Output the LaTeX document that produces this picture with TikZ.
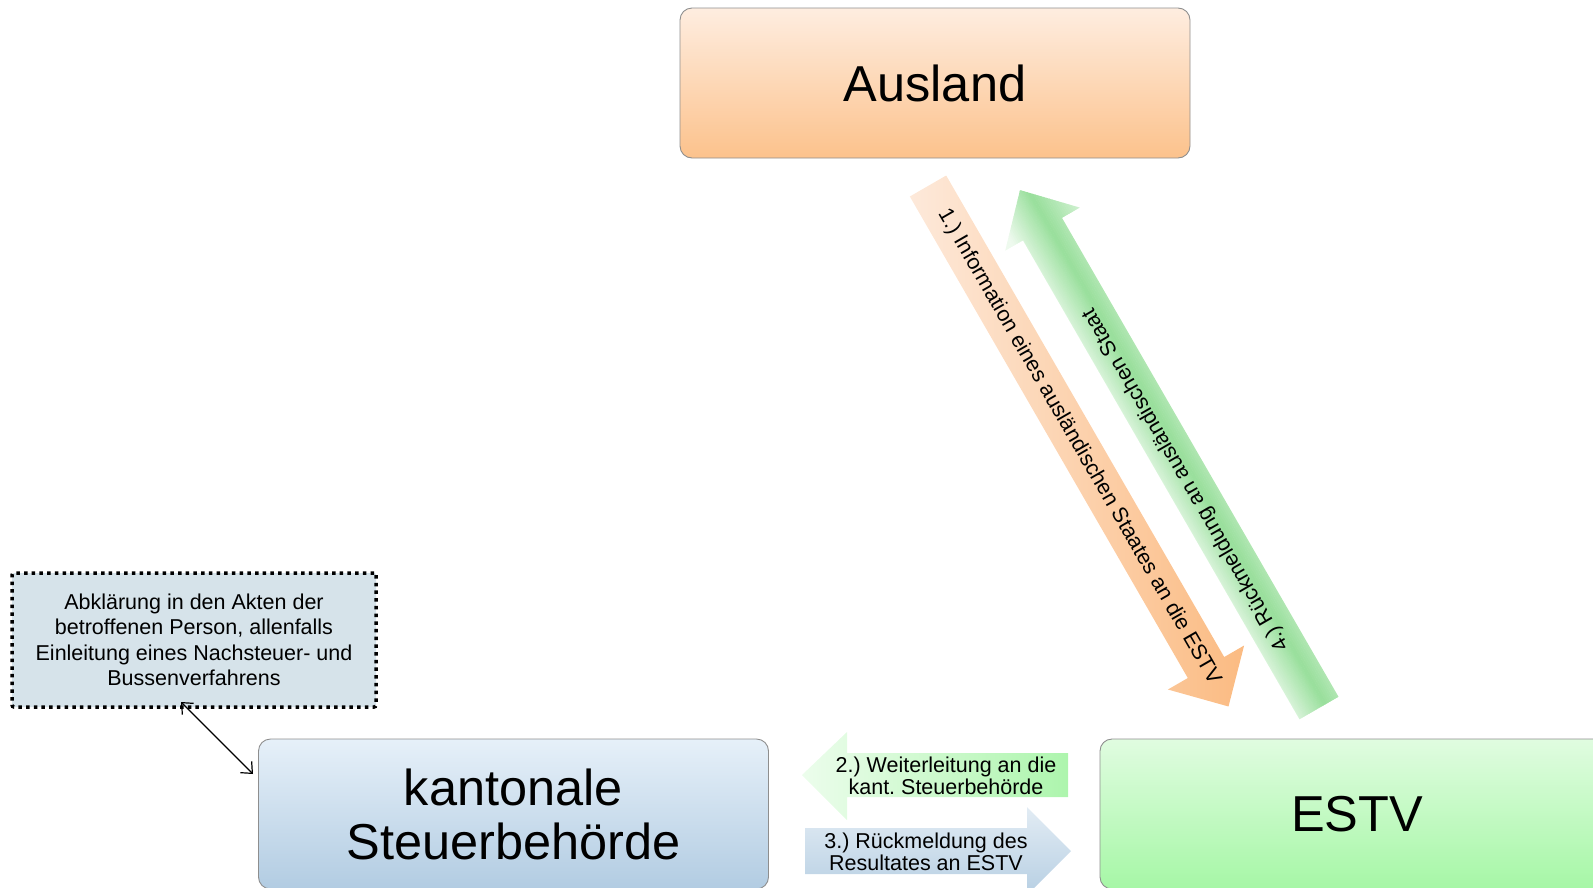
\documentclass[tikz,border=0pt]{standalone}
\usepackage{fontspec}
\setmainfont{Liberation Sans}
\usetikzlibrary{calc,arrows.meta}
\definecolor{auslandTop}{HTML}{FEEDE0}
\definecolor{auslandBot}{HTML}{FCC28C}
\definecolor{kantTop}{HTML}{E6F0F9}
\definecolor{kantBot}{HTML}{B2CCE2}
\definecolor{estvTop}{HTML}{E0FCE0}
\definecolor{estvBot}{HTML}{A6F7A6}
\definecolor{boxLine}{HTML}{8E8E8E}
\definecolor{noteFill}{HTML}{D6E3EA}
\definecolor{orLight}{HTML}{FDE9DA}
\definecolor{orDark}{HTML}{FBBB82}
\definecolor{grEdge}{HTML}{EEFAEE}
\definecolor{grMid}{HTML}{98DF9B}
\definecolor{grTwoLeft}{HTML}{ECFDEC}
\definecolor{grTwoRight}{HTML}{ADF5AD}
\definecolor{blTop}{HTML}{E2ECF4}
\definecolor{blBot}{HTML}{B7CFE3}
\frenchspacing
\begin{document}
\begin{tikzpicture}[x=1pt,y=-1pt,
  bigbox/.style={draw=boxLine, line width=0.9pt, rounded corners=12pt, inner sep=0pt,
    font=\fontsize{50.5}{54}\selectfont, align=center, minimum width=510pt, minimum height=150pt},
  notebox/.style={draw=black, line width=3.5pt, dash pattern=on 3.5pt off 4.2pt, fill=noteFill,
    rounded corners=2pt, minimum width=364pt, minimum height=134pt, align=center,
    font=\fontsize{21.5}{25.5}\selectfont, inner sep=0pt},
  lbl/.style={align=center, font=\fontsize{21.5}{22}\selectfont, inner sep=0pt},
  dbl/.style={{Straight Barb[length=9pt,width=16pt]}-{Straight Barb[length=9pt,width=16pt]}, line width=1.2pt},
  orshade/.style={left color=orLight, right color=orDark},
  gtwoshade/.style={left color=grTwoLeft, right color=grTwoRight},
  blshade/.style={top color=blTop, bottom color=blBot},
]
\useasboundingbox (0,0) rectangle (1593,887);

% boxes
\node[bigbox, top color=auslandTop, bottom color=auslandBot] (ausland) at (935,83) {Ausland};
\node[bigbox, top color=kantTop, bottom color=kantBot] (kant) at (513.5,814) {kantonale\\Steuerbeh\"orde};
\node[bigbox, top color=estvTop, bottom color=estvBot, minimum width=514pt] (estv) at (1357,814) {ESTV};

\node[notebox] (note) at (194,640) {Abkl\"arung in den Akten der\\betroffenen Person, allenfalls\\Einleitung eines Nachsteuer- und\\Bussenverfahrens};

% double arrow note <-> kant
\coordinate (nA) at (181,702);
\coordinate (nB) at (253,774);
\draw[dbl] (nA) -- (nB);

% arrow 1 (orange, Ausland -> ESTV)
\coordinate (t1) at (928,186);
\begin{scope}[shift={(t1)}, rotate=-60]
  \path[orshade] (0,-21) -- (556,-21) -- (556,-44) -- (601,0) -- (556,44) -- (556,21) -- (0,21) -- cycle;
\end{scope}
\node[lbl, rotate=-60] (l1) at (1079,447) {1.) Information eines ausl\"andischen Staates an die ESTV};

% arrow 4 (green, ESTV -> Ausland), gradient across its width
\coordinate (t4) at (1319,708);
\begin{scope}[shift={(t4)}, rotate=120]
  \clip (0,-22.5) -- (553,-22.5) -- (553,-43) -- (598,0) -- (553,43) -- (553,22.5) -- (0,22.5) -- cycle;
  \foreach \k in {0,...,44} {
    \pgfmathsetmacro{\s}{-45+2*\k}
    \pgfmathsetmacro{\p}{\s<6 ? max(0,min(100,(\s+34)/40*100)) : max(0,min(100,100-(\s-6)/20*35))}
    \fill[grMid!\p!grEdge] (-2,\s) rectangle (602,\s+2.4);
  }
\end{scope}
\node[lbl, rotate=120] (l4) at (1186,480) {4.) R\"uckmeldung an ausl\"andischen Staat};

% arrow 2 (green, ESTV -> kant)
\coordinate (t2) at (1068,775);
\path[gtwoshade] (t2) ++(0,-22) -- (847,753) -- (847,732) -- (802,775) -- (847,820) -- (847,797) -- (1068,797) -- cycle;
\node[lbl] (l2) at (946,776) {2.) Weiterleitung an die\\kant. Steuerbeh\"orde};

% arrow 3 (blue, kant -> ESTV)
\coordinate (t3) at (805,851);
\path[blshade] (t3) ++(0,-23) -- (1027,828) -- (1027,807) -- (1071,851) -- (1027,895) -- (1027,874) -- (805,874) -- cycle;
\node[lbl] (l3) at (926,852) {3.) R\"uckmeldung des\\Resultates an ESTV};
\end{tikzpicture}
\end{document}
